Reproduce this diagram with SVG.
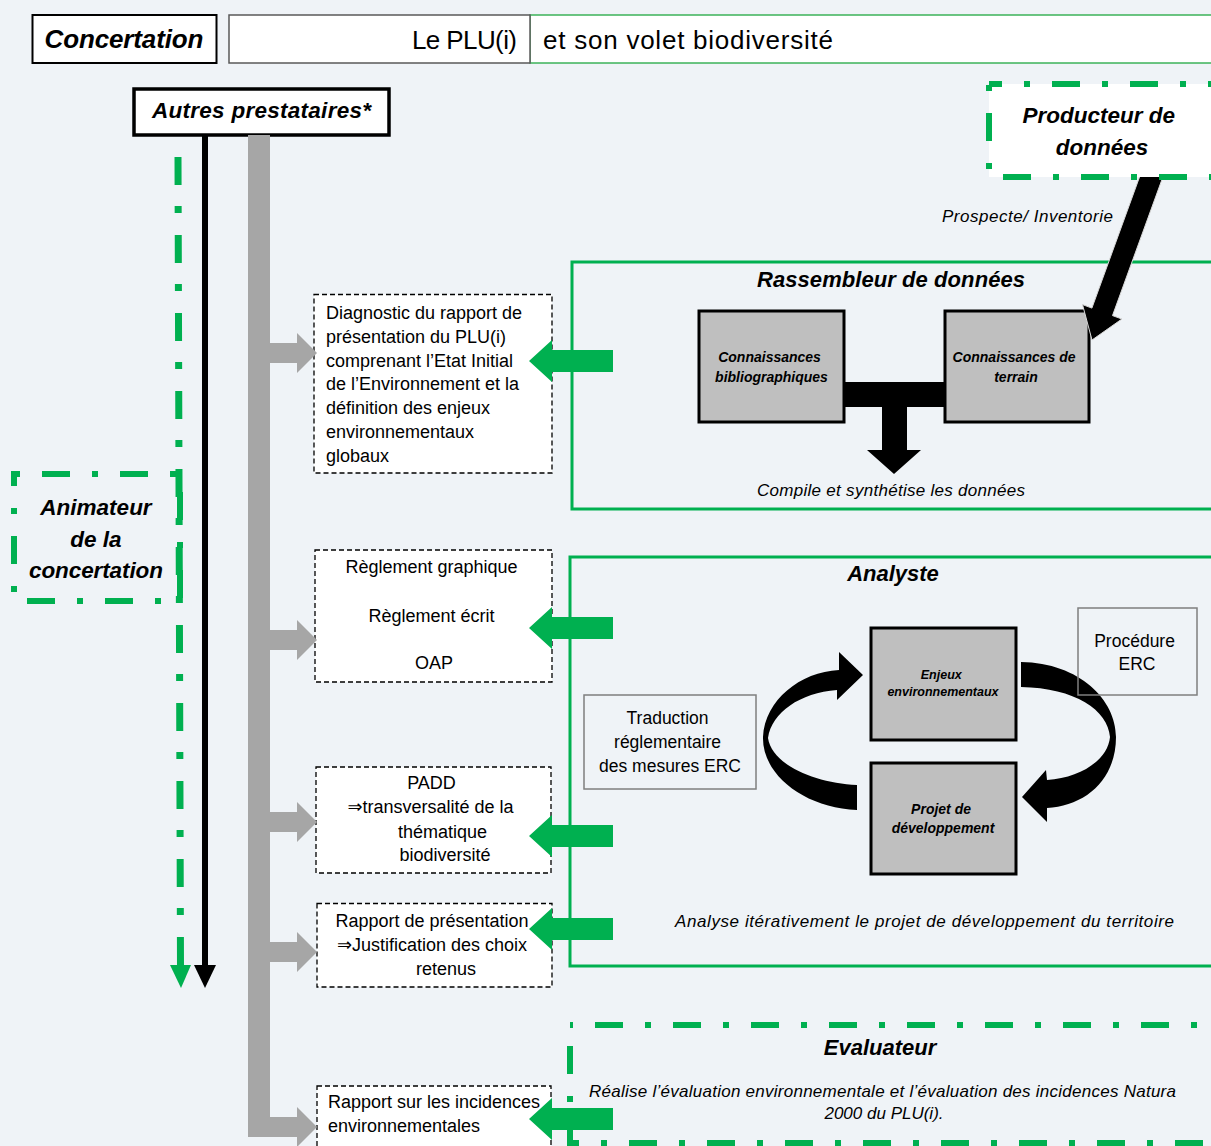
<svg xmlns="http://www.w3.org/2000/svg" width="1211" height="1146" viewBox="0 0 1211 1146">
<style>
.t{font-family:"Liberation Sans",Arial,"DejaVu Sans",sans-serif;fill:#000}
.bi{font-weight:bold;font-style:italic}
.it{font-style:italic}
.dash{fill:#fff;stroke:#000;stroke-width:1.3;stroke-dasharray:5 3}
.grn{fill:none;stroke:#00b050;stroke-width:3}
.dd{stroke:#00b050;stroke-width:6;stroke-dasharray:28 22 6 22}
.gbox{fill:#bfbfbf;stroke:#000;stroke-width:3}
.gray{fill:#a6a6a6}
.ga{fill:#00b050}
.thin{fill:none;stroke:#7f7f7f;stroke-width:1.5}
</style>
<rect x="0" y="0" width="1211" height="1146" fill="#eff3f7"/>

<g id="header">
  <rect x="32.5" y="15" width="184" height="48" fill="#fff" stroke="#000" stroke-width="2"/>
  <text class="t bi" x="124" y="48" font-size="26" text-anchor="middle" textLength="159">Concertation</text>
  <rect x="530" y="15" width="700" height="48" fill="#fff" stroke="#3cb35a" stroke-width="1.5"/>
  <rect x="229" y="15" width="301" height="48" fill="#fff" stroke="#595959" stroke-width="1.5"/>
  <text class="t" x="517" y="49" font-size="26" text-anchor="end" textLength="105">Le PLU(i)</text>
  <text class="t" x="543" y="49" font-size="26" textLength="290">et son volet biodiversité</text>
</g>

<g id="autres-prestataires">
  <rect x="134" y="89" width="255" height="46" fill="#fff" stroke="#000" stroke-width="3.5"/>
  <text class="t bi" x="261.5" y="118" font-size="22.5" text-anchor="middle" textLength="219">Autres prestataires*</text>
</g>

<g id="animateur">
  <rect class="dd" x="14" y="474" width="166" height="127" fill="none" stroke-dashoffset="50"/>
  <text class="t bi" x="96" y="515" font-size="22.5" text-anchor="middle">Animateur</text>
  <text class="t bi" x="96" y="547" font-size="22.5" text-anchor="middle">de la</text>
  <text class="t bi" x="96" y="578" font-size="22.5" text-anchor="middle" textLength="134">concertation</text>
</g>

<g id="diagnostic">
  <rect class="dash" x="314" y="294.5" width="238" height="178.5"/>
  <text class="t" font-size="18" x="326">
    <tspan x="326" y="319">Diagnostic du rapport de</tspan>
    <tspan x="326" y="343">présentation du PLU(i)</tspan>
    <tspan x="326" y="367">comprenant l’Etat Initial</tspan>
    <tspan x="326" y="390">de l’Environnement et la</tspan>
    <tspan x="326" y="414">définition des enjeux</tspan>
    <tspan x="326" y="438">environnementaux</tspan>
    <tspan x="326" y="462">globaux</tspan>
  </text>
</g>

<g id="reglement">
  <rect class="dash" x="315" y="550" width="237" height="132"/>
  <text class="t" font-size="18" text-anchor="middle">
    <tspan x="434" y="573">Règlement graphique</tspan>
    <tspan x="434" y="622">Règlement écrit</tspan>
    <tspan x="434" y="669">OAP</tspan>
  </text>
</g>

<g id="padd">
  <rect class="dash" x="316" y="767" width="235" height="106"/>
  <text class="t" font-size="18" text-anchor="middle">
    <tspan x="434" y="789">PADD</tspan>
    <tspan x="433" y="813">⇒transversalité de la</tspan>
    <tspan x="445" y="838">thématique</tspan>
    <tspan x="445" y="861">biodiversité</tspan>
  </text>
</g>

<g id="rapport-presentation">
  <rect class="dash" x="317" y="903.5" width="235" height="83.5"/>
  <text class="t" font-size="18" text-anchor="middle">
    <tspan x="434.5" y="927">Rapport de présentation</tspan>
    <tspan x="434.5" y="951">⇒Justification des choix</tspan>
    <tspan x="446" y="975">retenus</tspan>
  </text>
</g>

<g id="rapport-incidences">
  <rect class="dash" x="317" y="1086" width="234" height="80"/>
  <text class="t" font-size="18">
    <tspan x="328" y="1108">Rapport sur les incidences</tspan>
    <tspan x="328" y="1132">environnementales</tspan>
  </text>
</g>

<g id="rassembleur">
  <rect class="grn" x="572" y="262" width="660" height="247"/>
  <text class="t bi" x="757" y="287" font-size="22" textLength="268">Rassembleur de données</text>
  <text class="t it" x="757" y="496" font-size="17" textLength="268">Compile et synthétise les données</text>
</g>

<g id="connaissances-biblio">
  <rect class="gbox" x="699" y="311" width="145" height="111"/>
  <text class="t bi" font-size="14" text-anchor="middle">
    <tspan x="771.5" y="362">Connaissances</tspan>
    <tspan x="771.5" y="382">bibliographiques</tspan>
  </text>
</g>

<g id="connaissances-terrain">
  <rect class="gbox" x="945" y="311" width="144" height="111"/>
  <text class="t bi" font-size="14" text-anchor="middle">
    <tspan x="1016" y="362">Connaissances de</tspan>
    <tspan x="1016" y="382">terrain</tspan>
  </text>
</g>

<g id="analyste">
  <rect class="grn" x="570" y="557" width="660" height="409"/>
  <text class="t bi" x="893" y="581" font-size="22" text-anchor="middle">Analyste</text>
  <text class="t it" x="675" y="927" font-size="17" textLength="499">Analyse itérativement le projet de développement du territoire</text>
</g>

<g id="traduction">
  <rect class="thin" x="584" y="695" width="172" height="94"/>
  <text class="t" font-size="17.5" text-anchor="middle">
    <tspan x="670" y="724">Traduction</tspan>
    <tspan x="670" y="748">réglementaire</tspan>
    <tspan x="670" y="772">des mesures ERC</tspan>
  </text>
</g>

<g id="enjeux">
  <rect class="gbox" x="871" y="628" width="145" height="112"/>
  <text class="t bi" font-size="12.5" text-anchor="middle">
    <tspan x="943" y="679">Enjeux</tspan>
    <tspan x="943" y="696">environnementaux</tspan>
  </text>
</g>

<g id="projet">
  <rect class="gbox" x="871" y="763" width="145" height="111"/>
  <text class="t bi" font-size="14" text-anchor="middle">
    <tspan x="943" y="814">Projet de</tspan>
    <tspan x="943" y="833">développement</tspan>
  </text>
</g>

<g id="evaluateur">
  <rect class="dd" x="570" y="1025" width="660" height="118" fill="none" stroke-width="5" stroke-dasharray="30 23 7 23" stroke-dashoffset="53"/>
  <text class="t bi" x="880" y="1055" font-size="22" text-anchor="middle">Evaluateur</text>
  <text class="t it" x="589" y="1097" font-size="17" textLength="587">Réalise l’évaluation environnementale et l’évaluation des incidences Natura</text>
  <text class="t it" x="884" y="1119" font-size="17" text-anchor="middle">2000 du PLU(i).</text>
</g>

<g id="connectors">
  <line x1="205" y1="135" x2="205" y2="968" stroke="#000" stroke-width="6"/>
  <polygon points="194,965 216,965 205,988" fill="#000"/>
  <line x1="178" y1="157" x2="180.5" y2="968" stroke="#00b050" stroke-width="7" stroke-dasharray="28 21 7 22"/>
  <polygon points="170,965 191,965 181,988" fill="#00b050"/>

  <rect class="gray" x="248" y="135" width="22" height="1002"/>
  <path class="gray" d="M270,343 L297,343 L297,333 L317,353 L297,373 L297,363 L270,363Z"/>
  <path class="gray" d="M270,630 L297,630 L297,620 L317,640 L297,660 L297,650 L270,650Z"/>
  <path class="gray" d="M270,812 L297,812 L297,802 L317,822 L297,842 L297,832 L270,832Z"/>
  <path class="gray" d="M270,942 L297,942 L297,932 L317,952 L297,972 L297,962 L270,962Z"/>
  <path class="gray" d="M248,1117 L297,1117 L297,1107 L317,1127 L297,1147 L297,1137 L248,1137Z"/>

  <path class="ga" d="M613,350 L552,350 L552,340 L529,361 L552,382 L552,372 L613,372Z"/>
  <path class="ga" d="M613,617 L552,617 L552,607 L529,628 L552,649 L552,639 L613,639Z"/>
  <path class="ga" d="M613,825 L552,825 L552,815 L529,836 L552,857 L552,847 L613,847Z"/>
  <path class="ga" d="M613,918 L552,918 L552,908 L529,929 L552,950 L552,940 L613,940Z"/>
  <path class="ga" d="M613,1108 L552,1108 L552,1098 L529,1119 L552,1140 L552,1130 L613,1130Z"/>

  <path d="M844,382 L945,382 L945,407 L907,407 L907,450 L921,450 L894,474 L867,450 L882,450 L882,407 L844,407Z" fill="#000"/>

  <path d="M1142.7,168.3 L1163.3,175.8 L1112.5,315.6 L1121.9,319 L1092,340 L1082.5,304.6 L1091.9,308.1Z" fill="#000" stroke="#d9d9d9" stroke-width="1"/>
  <text class="t it" x="942" y="222" font-size="17" textLength="171">Prospecte/ Inventorie</text>

  <path d="M839,670 L839,652 L863,675 L837,700 L837,690 C800,693 772,712 768,738 C772,765 815,783 857,785 L857,810 C805,808 762,775 763,737 C765,700 800,672 839,670Z" fill="#000"/>
  <path d="M1021,662 C1080,663 1116,700 1116,737 C1116,780 1085,806 1047,808 L1047,822 L1022,797 L1046,770 L1047,780 C1080,778 1108,760 1110,737 C1108,710 1075,688 1021,687Z" fill="#000"/>
</g>

<g id="procedure-erc">
  <rect class="thin" x="1078" y="608" width="119" height="87"/>
  <text class="t" font-size="17.5" text-anchor="middle">
    <tspan x="1137" y="647">Procédure</tspan>
    <tspan x="1137" y="670">ERC</tspan>
  </text>
</g>

<g id="producteur">
  <rect class="dd" x="989" y="84" width="240" height="93" fill="#fff" stroke-dashoffset="15"/>
  <text class="t bi" font-size="22.5" text-anchor="middle">
    <tspan x="1102" y="123">Producteur de</tspan>
    <tspan x="1102" y="155">données</tspan>
  </text>
</g>
</svg>
